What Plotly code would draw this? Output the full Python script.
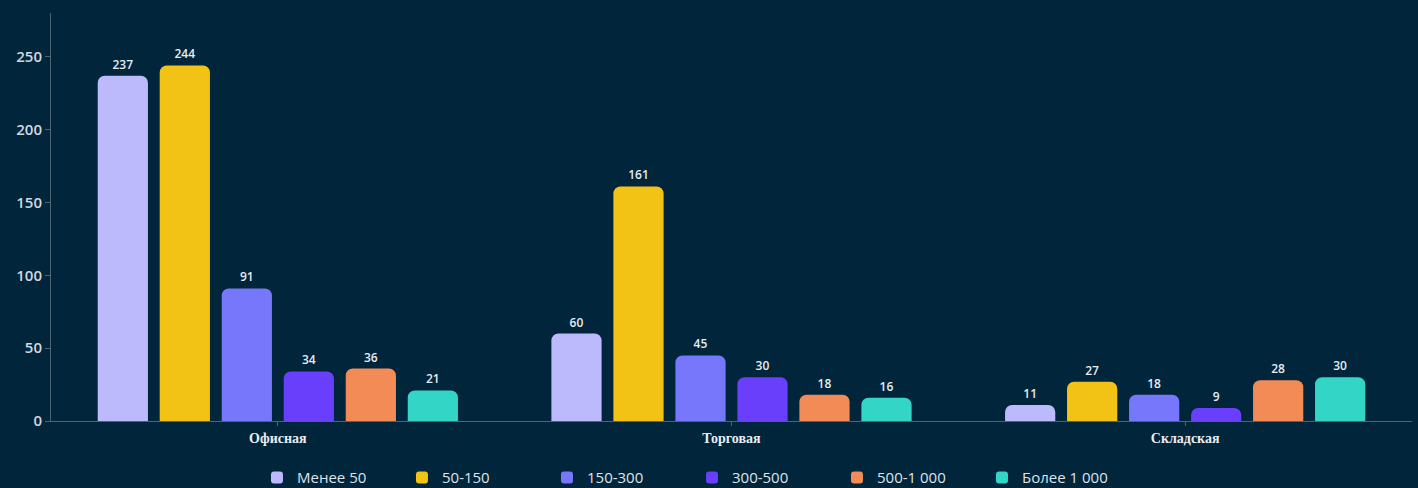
import plotly.graph_objects as go

categories = ["Офисная", "Торговая", "Складская"]
series_names = ["Менее 50", "50-150", "150-300", "300-500", "500-1 000", "Более 1 000"]
values = {
    "Менее 50": [237, 60, 11],
    "50-150": [244, 161, 27],
    "150-300": [91, 45, 18],
    "300-500": [34, 30, 9],
    "500-1 000": [36, 18, 28],
    "Более 1 000": [21, 16, 30],
}
colors = ["#bcb9fd", "#f2c314", "#7677fb", "#6a3ffb", "#f38b56", "#33d6c6"]
y_ticks = [0, 50, 100, 150, 200, 250]

bg = "#01253b"
fig = go.Figure()
for name, col in zip(series_names, colors):
    fig.add_trace(go.Bar(
        name=name, x=categories, y=values[name],
        marker=dict(color=col, line=dict(width=0)),
        text=values[name], textposition="outside",
        textfont=dict(color="#e6ecf2", size=12, family="Open Sans", weight=600),
        cliponaxis=False,
    ))

fig.update_layout(
    width=1418, height=488,
    paper_bgcolor=bg, plot_bgcolor=bg,
    margin=dict(l=51, r=6, t=13, b=67, autoexpand=False),
    barmode="group", bargap=0.18, bargroupgap=0.19,
    barcornerradius=7,
    font=dict(family="Open Sans", color="#d0d8e0", size=14),
    showlegend=True,
    legend=dict(orientation="h", x=0.488, xanchor="center", xref="container",
                y=0.021, yanchor="middle", yref="container",
                font=dict(size=15, color="#dde4ea"), bgcolor="rgba(0,0,0,0)",
                itemwidth=30, entrywidth=100, entrywidthmode="pixels"),
    xaxis=dict(showline=True, linecolor="#4c6476", linewidth=1, ticks="outside",
               ticklen=4, tickcolor="#4c6476", showgrid=False,
               tickfont=dict(family="Liberation Serif", size=14, color="#e8edf2", weight="bold")),
    yaxis=dict(range=[0, 280], tickvals=y_ticks, showline=True, linecolor="#4c6476",
               linewidth=1, ticks="outside", ticklen=5, tickcolor="#4c6476",
               showgrid=False, zeroline=False,
               tickfont=dict(size=15, color="#d0d8e0", weight=600)),
)
fig.write_html("out.html", config={"displayModeBar": False},
               post_script="document.body.style.margin='0';document.body.style.overflow='hidden';")
